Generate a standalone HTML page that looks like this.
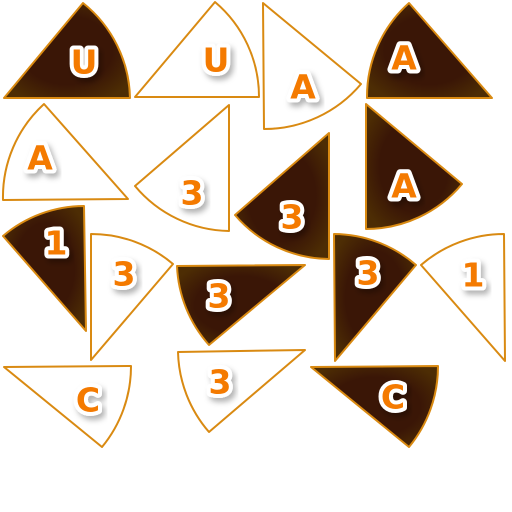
<!DOCTYPE html>
<html><head><meta charset="utf-8"><style>
html,body{margin:0;padding:0;background:#fff;width:512px;height:512px;overflow:hidden}
svg{display:block}
text{font-family:"DejaVu Sans","Liberation Sans",sans-serif;font-weight:bold;font-size:33px;fill:#f47a00;stroke:#fff;stroke-width:8px;paint-order:stroke;stroke-linejoin:round;text-anchor:middle;dominant-baseline:central}
</style></head><body>
<svg id="cv" width="512" height="512" viewBox="0 0 512 512">
<defs>
<radialGradient id="dk" cx="50%" cy="50%" r="60%"><stop offset="0.6" stop-color="#3a1606"/><stop offset="1" stop-color="#4d2d04"/></radialGradient>
<filter id="sh" x="-30%" y="-30%" width="160%" height="160%"><feDropShadow dx="3" dy="4" stdDeviation="3" flood-color="#000" flood-opacity="0.3"/></filter>
</defs>
</svg>
<script>
const centers=[[4,98],[135,97],[263,3],[492,98],[128,199],[229,105],[329,133],[366,104],[86,331],[91,360],[305,265],[335,361],[505,361],[4,367],[305,350],[311,367]];
const p1s=[[130,98],[259,97],[264,129],[409,3],[44,104],[135,186],[235,215],[462,184],[3,236],[91,234],[177,266],[334,234],[421,265],[131,366],[178,352],[438,366]];
const p2s=[[83,3],[215,2],[361,84],[367,98],[3,200],[229,231],[329,259],[366,229],[84,206],[173,264],[209,345],[416,265],[504,234],[102,447],[209,432],[409,447]];
const dark=[1,0,0,1,0,0,1,1,1,0,1,1,0,0,0,1];
const labels=["U","U","A","A","A","3","3","A","1","3","3","3","1","C","3","C"];
const labelPos=[[84,62],[216,60],[303,87],[404,58],[40,158],[192,193],[292,217],[404,186],[56,243],[124,274],[219,296],[368,273],[473,275],[88,400],[220,382],[393,397]];
const svg=document.getElementById('cv');
const NS='http://www.w3.org/2000/svg';
for(let i=0;i<centers.length;i++){
  const [cx,cy]=centers[i],[ax,ay]=p1s[i],[bx,by]=p2s[i];
  const r=(Math.hypot(ax-cx,ay-cy)+Math.hypot(bx-cx,by-cy))/2;
  const cr=(ax-cx)*(by-cy)-(ay-cy)*(bx-cx);
  const sw=cr>0?1:0;
  const p=document.createElementNS(NS,'path');
  p.setAttribute('d',`M${cx},${cy}L${ax},${ay}A${r},${r} 0 0 ${sw} ${bx},${by}Z`);
  p.setAttribute('fill',dark[i]?'url(#dk)':'#fff');
  p.setAttribute('stroke','#d98a12');
  p.setAttribute('stroke-width','2');
  p.setAttribute('stroke-linejoin','round');
  
  
  svg.appendChild(p);
  const t=document.createElementNS(NS,'text');
  t.setAttribute('x',labelPos[i][0]);t.setAttribute('y',labelPos[i][1]);
  t.setAttribute('filter','url(#sh)');
  t.textContent=labels[i];
  
  
  svg.appendChild(t);
}
</script>
</body></html>
